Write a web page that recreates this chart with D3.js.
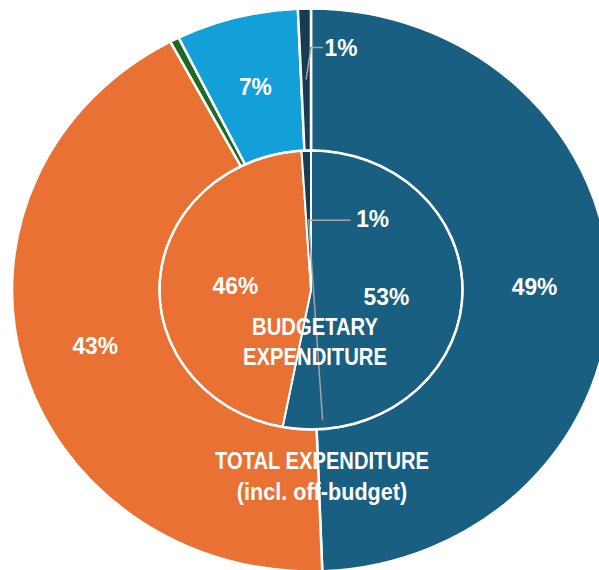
<!DOCTYPE html>
<html>
<head>
<meta charset="utf-8">
<script src="https://cdn.jsdelivr.net/npm/d3@7"></script>
<style>
  body { margin: 0; background: #fff; }
  text { font-family: "Liberation Sans", Arial, sans-serif; fill: #fff; font-weight: bold; }
</style>
</head>
<body>
<svg id="chart" width="599" height="570"></svg>
<script>
  // Outer ring - total expenditure (incl. off-budget), clockwise from 12 o'clock.
  var outerValues = [49.4, 42.8, 0.5, 6.6, 0.7];
  var outerLabels = ["49%", "43%", "", "7%", "1%"];
  var outerColors = ["#185f82", "#e87133", "#1d6b22", "#139fd7", "#173b52"];

  // Inner pie - budgetary expenditure.
  var innerValues = [53, 46, 1];
  var innerLabels = ["53%", "46%", "1%"];
  var innerColors = ["#185f82", "#e87133", "#173b52"];

  var innerTitle = ["BUDGETARY", "EXPENDITURE"];
  var outerTitle = ["TOTAL EXPENDITURE", "(incl. off-budget)"];

  // Small slices get their label pulled out with a leader line.
  var callouts = [
    { ring: "outer", index: 4, dx: 35, dy: -32 },
    { ring: "inner", index: 2, dx: 64, dy: -2, tail: [14, 200] }
  ];

  var cx = 311, cy = 290;
  var rOuter = 281.5, kOuter = 1.062;   // picture is a bit wider than tall
  var rInner = 139.5, kInner = 1.086;

  var svg = d3.select("#chart");
  var pie = d3.pie().sort(null).value(function(d) { return d; });

  var outerArcs = pie(outerValues);
  var innerArcs = pie(innerValues);

  var outerArc = d3.arc().innerRadius(0).outerRadius(rOuter);
  var innerArc = d3.arc().innerRadius(0).outerRadius(rInner);
  // where the labels go
  var outerLabelArc = d3.arc().innerRadius(rInner).outerRadius(rOuter);
  var innerLabelArc = d3.arc().innerRadius(0).outerRadius(rInner);

  var gOuter = svg.append("g")
      .attr("transform", "translate(" + cx + "," + cy + ") scale(" + kOuter + ",1)");
  gOuter.selectAll("path")
    .data(outerArcs)
    .enter()
    .append("path")
      .attr("d", outerArc)
      .attr("fill", function(d, i) { return outerColors[i]; })
      .attr("stroke", "#fff")
      .attr("stroke-width", 2.5)
      .attr("vector-effect", "non-scaling-stroke");

  var gInner = svg.append("g")
      .attr("transform", "translate(" + cx + "," + cy + ") scale(" + kInner + ",1)");
  gInner.selectAll("path")
    .data(innerArcs)
    .enter()
    .append("path")
      .attr("d", innerArc)
      .attr("fill", function(d, i) { return innerColors[i]; })
      .attr("stroke", "#fff")
      .attr("stroke-width", 2)
      .attr("vector-effect", "non-scaling-stroke");
  gInner.append("circle")
      .attr("r", rInner)
      .attr("fill", "none")
      .attr("stroke", "#fff")
      .attr("stroke-width", 2.5)
      .attr("vector-effect", "non-scaling-stroke");

  var toScreen = function(pt, k) {
    return [cx + pt[0] * k, cy + pt[1]];
  };

  var isCallout = function(ring, i) {
    return callouts.some(function(c) { return c.ring == ring && c.index == i; });
  };

  // Text in the source is a condensed face, squeeze it a bit.
  var addText = function(g, x, y, str, size, squeeze) {
    g.append("text")
        .attr("transform", "translate(" + x + "," + y + ") scale(" + squeeze + ",1)")
        .attr("font-size", size)
        .attr("text-anchor", "middle")
        .attr("dy", "0.36em")
        .text(str);
  };

  // Plain labels.
  var labels = svg.append("g");
  outerArcs.forEach(function(d, i) {
    if (!outerLabels[i] || isCallout("outer", i)) return;
    var p = toScreen(outerLabelArc.centroid(d), kOuter);
    addText(labels, p[0], p[1], outerLabels[i], 24, 0.95);
  });
  innerArcs.forEach(function(d, i) {
    if (!innerLabels[i] || isCallout("inner", i)) return;
    var p = toScreen(innerLabelArc.centroid(d), kInner);
    addText(labels, p[0], p[1], innerLabels[i], 24, 0.95);
  });

  // Leader line labels.
  var line = d3.line();
  callouts.forEach(function(c) {
    var outer = c.ring == "outer";
    var d = outer ? outerArcs[c.index] : innerArcs[c.index];
    var p = outer ? toScreen(outerLabelArc.centroid(d), kOuter) : toScreen(innerLabelArc.centroid(d), kInner);
    var txt = outer ? outerLabels[c.index] : innerLabels[c.index];
    var elbow, pts;
    if (outer) {
      elbow = [cx, p[1] + c.dy];
      pts = [p, elbow, [p[0] + c.dx - 18, elbow[1]]];
    } else {
      elbow = p;
      pts = [[p[0] + c.tail[0], p[1] + c.tail[1]], elbow, [p[0] + c.dx - 22, elbow[1]]];
    }
    svg.append("path")
        .attr("d", line(pts))
        .attr("fill", "none")
        .attr("stroke", "#a5a5a5")
        .attr("stroke-width", 1.5);
    addText(labels, p[0] + c.dx, p[1] + c.dy, txt, 24, 0.95);
  });

  // Ring titles.
  var titles = svg.append("g");
  innerTitle.forEach(function(t, i) {
    addText(titles, cx + 4, cy + 37 + i * 30, t, 23, 0.88);
  });
  outerTitle.forEach(function(t, i) {
    addText(titles, cx + 11, cy + 170 + i * 31, t, 24, i == 0 ? 0.84 : 0.9);
  });
</script>
</body>
</html>
